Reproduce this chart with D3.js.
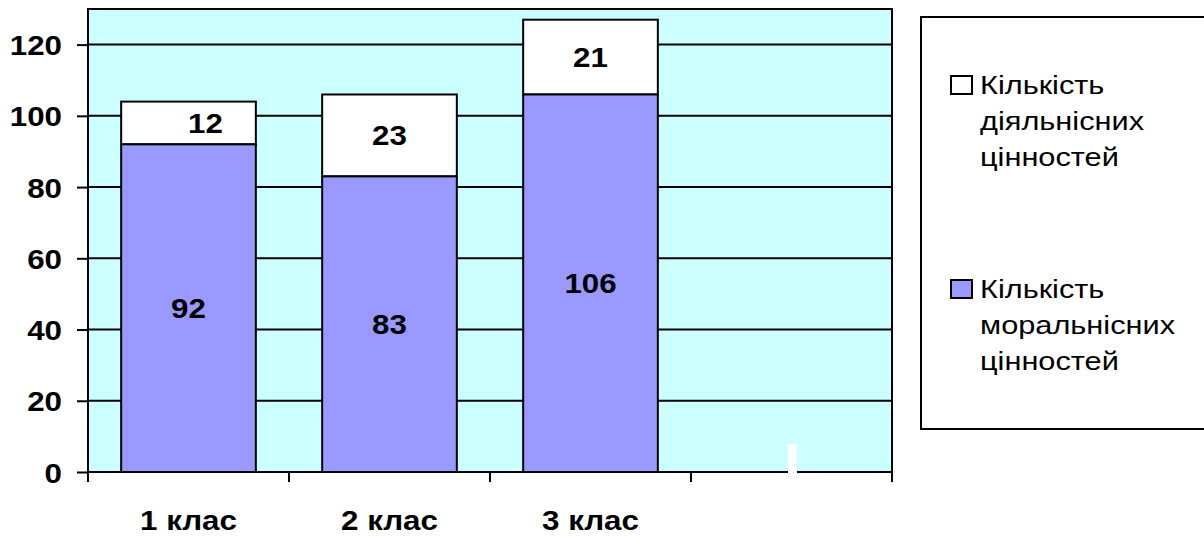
<!DOCTYPE html>
<html>
<head>
<meta charset="utf-8">
<script src="https://cdn.jsdelivr.net/npm/d3@7"></script>
<style>
  body { margin: 0; background: #ffffff; }
  svg { display: block; font-family: "Liberation Sans", Arial, sans-serif; }
  .tick-label { font-weight: bold; font-size: 27px; fill: #000; }
  .bar-label { font-weight: bold; font-size: 27px; fill: #000; }
  .legend-text { font-size: 26.5px; fill: #000; }
</style>
</head>
<body>
<script>
// Chart data
var categories = ["1 клас", "2 клас", "3 клас", ""];
var moralValues = [92, 83, 106];
var activityValues = [12, 23, 21];
var yTicks = [0, 20, 40, 60, 80, 100, 120];
var seriesNames = [
  ["Кількість", "діяльнісних", "цінностей"],
  ["Кількість", "моральнісних", "цінностей"]
];
var seriesColors = ["#ffffff", "#9999ff"];

// Size of the page and plot area
var w = 1204;
var h = 536;
var plot = { left: 88, right: 892, top: 9, bottom: 472 };
// The original text is a bit wider than normal Arial
var stretch = 1.16;

function place(x, y) {
  return "translate(" + x + "," + y + ") scale(" + stretch + ",1)";
}

var svg = d3.select("body")
    .append("svg")
    .attr("width", w)
    .attr("height", h);

// Scales
var xScale = d3.scaleBand()
    .domain(categories)
    .range([plot.left, plot.right])
    .paddingInner(0.33)
    .paddingOuter(0.165);

var yScale = d3.scaleLinear()
    .domain([0, 130])
    .range([plot.bottom, plot.top]);

// Plot background
svg.append("rect")
    .attr("x", plot.left)
    .attr("y", plot.top)
    .attr("width", plot.right - plot.left)
    .attr("height", plot.bottom - plot.top)
    .style("fill", "#ccffff");

// Gridlines
svg.selectAll(".grid")
    .data(yTicks.slice(1))
    .enter()
    .append("line")
    .attr("class", "grid")
    .attr("x1", plot.left)
    .attr("x2", plot.right)
    .attr("y1", function(d) { return yScale(d); })
    .attr("y2", function(d) { return yScale(d); })
    .style("stroke", "#000")
    .style("stroke-width", 2);

// Stack the two series
var stackData = moralValues.map(function(d, i) {
  return { cat: categories[i], moral: d, activity: activityValues[i] };
});
var stack = d3.stack().keys(["activity", "moral"]).order(d3.stackOrderReverse);
var series = stack(stackData);

// Small shift Excel gave to the first label
var labelShift = [17, 0, 0];

series.forEach(function(s) {
  var color = s.key == "moral" ? seriesColors[1] : seriesColors[0];
  svg.selectAll(".bar-" + s.key)
      .data(s)
      .enter()
      .append("rect")
      .attr("class", "bar-" + s.key)
      .attr("x", function(d) { return xScale(d.data.cat); })
      .attr("y", function(d) { return yScale(d[1]); })
      .attr("width", xScale.bandwidth())
      .attr("height", function(d) { return yScale(d[0]) - yScale(d[1]); })
      .style("fill", color)
      .style("stroke", "#000")
      .style("stroke-width", 2);
});

series.forEach(function(s) {
  svg.selectAll(".lab-" + s.key)
      .data(s)
      .enter()
      .append("text")
      .attr("class", "bar-label")
      .attr("transform", function(d, i) {
        var shift = s.key == "activity" ? labelShift[i] : 0;
        var x = xScale(d.data.cat) + xScale.bandwidth() / 2 + shift;
        var y = yScale((d[0] + d[1]) / 2) + 10;
        return place(x, y);
      })
      .style("text-anchor", "middle")
      .text(function(d) { return d.data[s.key]; });
});

// Plot border
svg.append("rect")
    .attr("x", plot.left)
    .attr("y", plot.top)
    .attr("width", plot.right - plot.left)
    .attr("height", plot.bottom - plot.top)
    .style("fill", "none")
    .style("stroke", "#000")
    .style("stroke-width", 2);

// Y axis
var yAxis = svg.append("g")
    .attr("transform", "translate(" + plot.left + ",0)")
    .call(d3.axisLeft(yScale).tickValues(yTicks).tickSize(11));
yAxis.select(".domain").remove();
yAxis.selectAll("line").style("stroke", "#000").style("stroke-width", 2);
yAxis.selectAll("text")
    .attr("class", "tick-label")
    .attr("x", null)
    .attr("dy", null)
    .attr("transform", place(-26, 10));

// X axis ticks at band boundaries
var xTicks = categories.map(function(c) { return xScale(c) - xScale.step() * xScale.paddingOuter(); });
xTicks.push(plot.right);
svg.append("line")
    .attr("x1", plot.left)
    .attr("x2", plot.right)
    .attr("y1", plot.bottom)
    .attr("y2", plot.bottom)
    .style("stroke", "#000")
    .style("stroke-width", 2);
svg.selectAll(".xtick")
    .data(xTicks)
    .enter()
    .append("line")
    .attr("class", "xtick")
    .attr("x1", function(d) { return d; })
    .attr("x2", function(d) { return d; })
    .attr("y1", plot.bottom)
    .attr("y2", plot.bottom + 10)
    .style("stroke", "#000")
    .style("stroke-width", 2);

svg.selectAll(".xlabel")
    .data(categories)
    .enter()
    .append("text")
    .attr("class", "tick-label")
    .attr("transform", function(d) { return place(xScale(d) + xScale.bandwidth() / 2, 530); })
    .style("text-anchor", "middle")
    .text(function(d) { return d; });

// White blemish in the original picture
svg.append("rect")
    .attr("x", 788)
    .attr("y", 444)
    .attr("width", 9)
    .attr("height", 30)
    .style("fill", "#ffffff");

// Legend
svg.append("rect")
    .attr("x", 921)
    .attr("y", 17)
    .attr("width", 290)
    .attr("height", 412)
    .style("fill", "#ffffff")
    .style("stroke", "#000")
    .style("stroke-width", 2);

var legend = svg.selectAll(".legend")
    .data(seriesNames)
    .enter()
    .append("g")
    .attr("class", "legend")
    .attr("transform", function(d, i) { return "translate(0," + i * 204 + ")"; });

legend.append("rect")
    .attr("x", 951)
    .attr("y", 76)
    .attr("width", 21)
    .attr("height", 18)
    .style("fill", function(d, i) { return seriesColors[i]; })
    .style("stroke", "#000")
    .style("stroke-width", 2);

legend.append("text")
    .attr("class", "legend-text")
    .attr("transform", place(980, 0))
    .selectAll("tspan")
    .data(function(d) { return d; })
    .enter()
    .append("tspan")
    .attr("x", 0)
    .attr("y", function(d, i) { return 94 + i * 36; })
    .text(function(d) { return d; });
</script>
</body>
</html>
